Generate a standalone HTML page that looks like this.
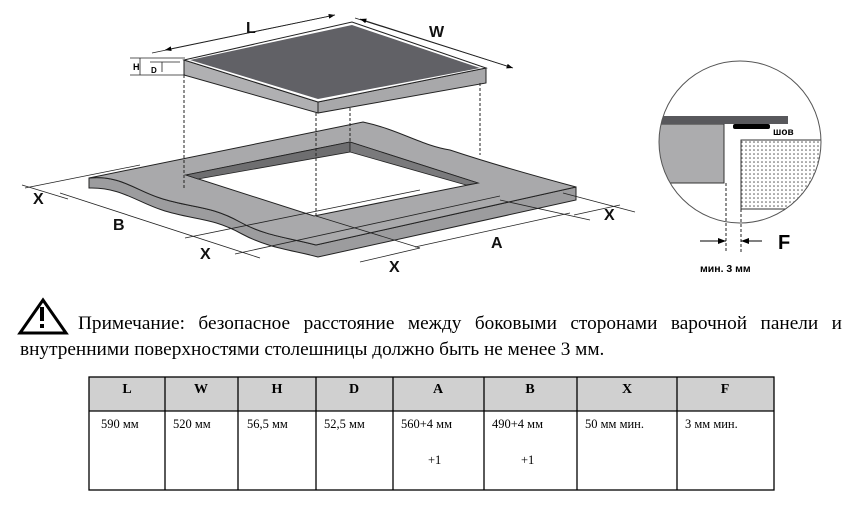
<!DOCTYPE html>
<html><head><meta charset="utf-8"><style>
body{margin:0;background:#fff;width:860px;height:520px;overflow:hidden;position:relative}
svg{position:absolute;left:0;top:0}
.t{font-family:"Liberation Serif","Noto Serif CJK SC",serif}
.s{font-family:"Liberation Sans","DejaVu Sans",sans-serif;font-weight:bold}
.n1{position:absolute;left:78px;top:311px;width:764px;font-family:"Liberation Serif",serif;font-size:19.3px;line-height:26px;text-align:justify;text-align-last:justify;white-space:nowrap}
.n2{position:absolute;left:20px;top:337px;font-family:"Liberation Serif",serif;font-size:19.3px;line-height:26px;white-space:nowrap}
</style></head><body>
<svg width="860" height="520" viewBox="0 0 860 520">
<defs>
<pattern id="dots" width="4" height="4" patternUnits="userSpaceOnUse"><rect width="4" height="4" fill="#fff"/><circle cx="2" cy="2" r="0.8" fill="#555"/></pattern>
<marker id="ar" markerWidth="8" markerHeight="6" refX="8" refY="3" orient="auto"><path d="M0,0L8,3L0,6z" fill="#000"/></marker>
</defs>
<path d="M89,178 C120,175 135,190 160,198 C190,208 210,205 240,222 C265,236 290,238 316,245 L576,187 L576,200 L318,257 C292,250 268,248 242,234 C212,217 192,220 162,210 C137,202 120,187 89,188 Z" fill="#9c9c9e" stroke="#222" stroke-width="1"/>
<path d="M89,178 L363,122 C400,130 420,145 450,150 C480,160 520,172 576,187 L316,245 C290,238 265,236 240,222 C210,205 190,208 160,198 C135,190 120,175 89,178 Z" fill="#a9a9ab" stroke="#222" stroke-width="1"/>
<path d="M186,175 L350,142 L478,183 L314,216 Z" fill="#fff" stroke="#222"/>
<path d="M186,175 L350,142 L350,152 L198,179 Z" fill="#6e6e70" stroke="#222" stroke-width="0.8"/>
<path d="M350,142 L478,183 L466,185 L350,152 Z" fill="#7a7a7c" stroke="#222" stroke-width="0.8"/>
<path d="M184,60 L318,102 L318,113 L184,75 Z" fill="#b0b0b2" stroke="#222"/>
<path d="M318,102 L486,68 L486,83 L318,113 Z" fill="#a8a8aa" stroke="#222"/>
<path d="M184,60 L352,22 L486,68 L318,102 Z" fill="#fff" stroke="#222"/>
<path d="M190,60 L352,25 L480,68 L318,99 Z" fill="#616166"/>
<g stroke="#222" stroke-dasharray="3,2" stroke-width="1">
<line x1="184" y1="75" x2="184" y2="190"/><line x1="316" y1="113" x2="316" y2="216"/><line x1="350" y1="108" x2="350" y2="142"/><line x1="480" y1="83" x2="480" y2="155"/>
</g>
<g stroke="#222" stroke-width="0.8" fill="none">
<line x1="152" y1="53" x2="335" y2="15" marker-end="url(#ar)"/><line x1="335" y1="15" x2="165" y2="50" marker-end="url(#ar)"/>
<line x1="355" y1="18" x2="513" y2="68" marker-end="url(#ar)"/><line x1="510" y1="67" x2="360" y2="19" marker-end="url(#ar)"/>
<line x1="130" y1="58" x2="185" y2="58"/><line x1="130" y1="75" x2="185" y2="75"/><line x1="150" y1="62" x2="180" y2="62"/>
<line x1="140" y1="58" x2="140" y2="75"/><line x1="162" y1="62" x2="162" y2="72"/>
<line x1="25" y1="188" x2="140" y2="165"/><line x1="60" y1="193" x2="260" y2="258"/><line x1="22" y1="185" x2="68" y2="199"/>
<line x1="185" y1="238" x2="420" y2="190"/><line x1="235" y1="254" x2="500" y2="196"/>
<line x1="316" y1="216" x2="420" y2="248"/><line x1="415" y1="247" x2="570" y2="213"/>
<line x1="563" y1="193" x2="635" y2="212"/><line x1="500" y1="200" x2="590" y2="220"/><line x1="574" y1="215" x2="620" y2="205"/>
<line x1="360" y1="262" x2="420" y2="248"/>
</g>
<g class="s" font-size="16" fill="#111">
<text x="246" y="33">L</text><text x="429" y="37">W</text>
<text x="33" y="204">X</text><text x="113" y="230">B</text><text x="200" y="259">X</text>
<text x="389" y="272">X</text><text x="491" y="248">A</text><text x="604" y="220">X</text>
</g>
<text x="133" y="70" class="s" font-size="9">H</text><text x="151" y="73" class="s" font-size="8">D</text>
<clipPath id="c"><circle cx="740" cy="142" r="81"/></clipPath>
<g clip-path="url(#c)">
<rect x="600" y="124" width="124" height="59" fill="#acacae" stroke="#333"/>
<rect x="741" y="140" width="100" height="69" fill="url(#dots)" stroke="#333"/>
<rect x="600" y="116" width="188" height="8" fill="#58585c"/>
<rect x="733" y="124" width="37" height="5" rx="2" fill="#000"/>
</g>
<circle cx="740" cy="142" r="81" fill="none" stroke="#555" stroke-width="1"/>
<text x="773" y="135" class="s" font-size="10">шов</text>
<g stroke="#222" stroke-dasharray="3,2"><line x1="726" y1="183" x2="726" y2="252"/><line x1="741" y1="209" x2="741" y2="252"/></g>
<line x1="700" y1="241" x2="726" y2="241" stroke="#000" marker-end="url(#ar)"/>
<line x1="762" y1="241" x2="741" y2="241" stroke="#000" marker-end="url(#ar)"/>
<text x="778" y="249" class="s" font-size="20">F</text>
<text x="700" y="272" class="s" font-size="10.5">мин. 3 мм</text>
<path d="M43,300 L66,333 L20,333 Z" fill="none" stroke="#000" stroke-width="3" stroke-linejoin="miter"/>
<rect x="40" y="307" width="4" height="14" fill="#000"/><rect x="40" y="324" width="4" height="4" fill="#000"/>
<rect x="89" y="377" width="685" height="34" fill="#d0d0d0"/>
<g stroke="#000" stroke-width="1.3" fill="none">
<rect x="89" y="377" width="685" height="113"/>
<line x1="89" y1="411" x2="774" y2="411"/>
<line x1="165" y1="377" x2="165" y2="490"/><line x1="238" y1="377" x2="238" y2="490"/><line x1="316" y1="377" x2="316" y2="490"/><line x1="393" y1="377" x2="393" y2="490"/><line x1="484" y1="377" x2="484" y2="490"/><line x1="577" y1="377" x2="577" y2="490"/><line x1="677" y1="377" x2="677" y2="490"/>
</g>
<g class="t" font-size="14" font-weight="bold" text-anchor="middle">
<text x="127" y="393">L</text><text x="201" y="393">W</text><text x="277" y="393">H</text><text x="354" y="393">D</text><text x="438" y="393">A</text><text x="530" y="393">B</text><text x="627" y="393">X</text><text x="725" y="393">F</text>
</g>
<g class="t" font-size="12.5">
<text x="101" y="428">590 мм</text><text x="173" y="428">520 мм</text><text x="247" y="428">56,5 мм</text><text x="324" y="428">52,5 мм</text>
<text x="401" y="428">560+4 мм</text><text x="492" y="428">490+4 мм</text><text x="585" y="428">50 мм мин.</text><text x="685" y="428">3 мм мин.</text>
<text x="428" y="464">+1</text><text x="521" y="464">+1</text>
</g>
</svg>
<div class="n1">Примечание: безопасное расстояние между боковыми сторонами варочной панели и</div>
<div class="n2">внутренними поверхностями столешницы должно быть не менее 3 мм.</div>
</body></html>
